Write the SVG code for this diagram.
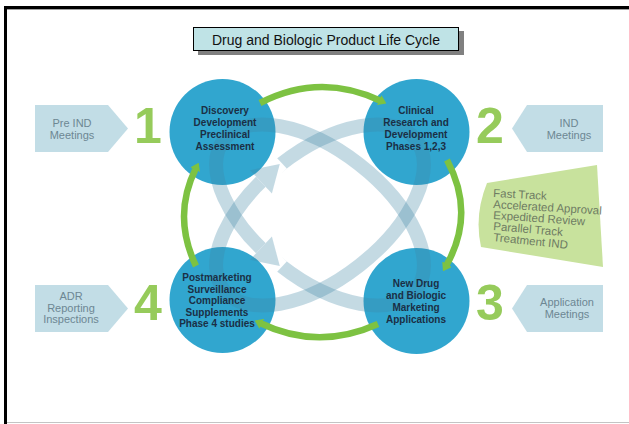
<svg xmlns="http://www.w3.org/2000/svg" width="629" height="424" viewBox="0 0 629 424">
  <style>
    .frame { fill: #000; }
    .title-box { fill: #bfe3e6; stroke: #000; stroke-width: 1; }
    .title-shadow { fill: #808080; }
    .title-text { font-family: "Liberation Sans", Arial, sans-serif; font-size: 14px; fill: #111; text-anchor: middle; }
    .tab { fill: #c2dde6; }
    .tab-text { font-family: "Liberation Sans", Arial, sans-serif; font-size: 11px; fill: #6d8793; text-anchor: middle; }
    .num { font-family: "Liberation Sans", Arial, sans-serif; font-size: 50px; font-weight: bold; fill: #96cb5b; text-anchor: middle; }
    .stage { fill: #31a6cf; }
    .stage-text { font-family: "Liberation Sans", Arial, sans-serif; font-size: 10px; font-weight: bold; fill: #1b2f45; text-anchor: middle; }
    .band { fill: none; stroke: #3f86a6; stroke-width: 14; }
    .band-head { fill: #3f86a6; }
    .flow { fill: none; stroke: #7dc242; stroke-width: 6.5; marker-end: url(#greenHead); }
    .panel { fill: #c8e29d; }
    .panel-text { font-family: "Liberation Sans", Arial, sans-serif; font-size: 11.5px; fill: #6e7b63; }
  </style>
  <defs>
    <marker id="greenHead" viewBox="0 0 8 11" refX="2" refY="5.5" markerWidth="8" markerHeight="11" markerUnits="userSpaceOnUse" orient="auto">
      <path d="M0,0 L8,5.5 L0,11 Z" fill="#7dc242"/>
    </marker>
    <!-- cut the band where each arrowhead sits, leaving a short gap after the tip -->
    <mask id="gapUpper" maskUnits="userSpaceOnUse" x="0" y="0" width="629" height="424">
      <rect x="0" y="0" width="629" height="424" fill="#fff"/>
      <polygon points="266.4,187.6 255.4,176.0 275.8,156.8 286.8,168.4" fill="#000"/>
    </mask>
    <mask id="gapLower" maskUnits="userSpaceOnUse" x="0" y="0" width="629" height="424">
      <rect x="0" y="0" width="629" height="424" fill="#fff"/>
      <polygon points="266.4,242.4 255.4,254.0 275.8,273.2 286.8,261.6" fill="#000"/>
    </mask>
  </defs>

  <!-- page frame -->
  <rect class="frame" x="4" y="6" width="625" height="3"/>
  <rect class="frame" x="4" y="6" width="3" height="418"/>
  <line x1="7" y1="9.5" x2="629" y2="9.5" stroke="#a0a0a0" stroke-width="1"/>
  <line x1="7" y1="422.5" x2="629" y2="422.5" stroke="#c4c4c4" stroke-width="1"/>

  <!-- title -->
  <g id="title">
    <rect class="title-shadow" x="198" y="31" width="266" height="24"/>
    <rect class="title-box" x="193.5" y="27.5" width="265" height="23"/>
    <text class="title-text" x="326" y="45">Drug and Biologic Product Life Cycle</text>
  </g>

  <!-- side tabs -->
  <g id="tab-pre-ind">
    <polygon class="tab" points="35,105 108,105 128,128.5 108,152 35,152"/>
    <text class="tab-text" x="72" y="127">Pre IND</text>
    <text class="tab-text" x="72" y="139">Meetings</text>
  </g>
  <g id="tab-ind">
    <polygon class="tab" points="603,105 527,105 512,128.5 527,152 603,152"/>
    <text class="tab-text" x="569" y="127">IND</text>
    <text class="tab-text" x="569" y="139">Meetings</text>
  </g>
  <g id="tab-adr">
    <polygon class="tab" points="35,285 108,285 128,308.5 108,332 35,332"/>
    <text class="tab-text" x="71" y="300">ADR</text>
    <text class="tab-text" x="71" y="311.5">Reporting</text>
    <text class="tab-text" x="71" y="323">Inspections</text>
  </g>
  <g id="tab-application">
    <polygon class="tab" points="603,285 527,285 512,308.5 527,332 603,332"/>
    <text class="tab-text" x="567" y="306">Application</text>
    <text class="tab-text" x="567" y="318">Meetings</text>
  </g>

  <!-- stage numbers -->
  <g id="numbers">
    <text class="num" x="148" y="143">1</text>
    <text class="num" x="490" y="143">2</text>
    <text class="num" x="490" y="320">3</text>
    <text class="num" x="148" y="320">4</text>
  </g>

  <!-- expedited programs panel -->
  <g id="expedited-panel">
    <path class="panel" d="M487,183 L597,165 L603,267 L481,247 Q474,215 487,183 Z"/>
    <text class="panel-text" x="493" y="197" transform="rotate(3 493 197)">Fast Track</text>
    <text class="panel-text" x="493" y="208" transform="rotate(3.5 493 208)">Accelerated Approval</text>
    <text class="panel-text" x="493" y="219" transform="rotate(4 493 219)">Expedited Review</text>
    <text class="panel-text" x="493" y="230" transform="rotate(5 493 230)">Parallel Track</text>
    <text class="panel-text" x="493" y="241" transform="rotate(6 493 241)">Treatment IND</text>
  </g>

  <!-- stage circles -->
  <g id="stage-1"><circle class="stage" cx="222.5" cy="132" r="53"/></g>
  <g id="stage-2"><circle class="stage" cx="416.5" cy="132" r="53"/></g>
  <g id="stage-3"><circle class="stage" cx="416.5" cy="301" r="53"/></g>
  <g id="stage-4"><circle class="stage" cx="222.5" cy="300" r="53"/></g>

  <g id="connectors">
    <!-- translucent cycle bands -->
    <g opacity="0.3">
      <g mask="url(#gapUpper)">
        <ellipse class="band" cx="320" cy="215" rx="122" ry="64" transform="rotate(-38 320 215)"/>
      </g>
      <polygon class="band-head" points="249.9,170.2 271.9,193.4 279.8,164.0"/>
    </g>
    <g opacity="0.3">
      <g mask="url(#gapLower)">
        <ellipse class="band" cx="320" cy="215" rx="122" ry="64" transform="rotate(38 320 215)"/>
      </g>
      <polygon class="band-head" points="249.9,259.8 271.9,236.6 279.8,266.0"/>
    </g>
    <!-- green cycle arrows -->
    <path class="flow" d="M260,103 Q320,72 381,101"/>
    <path class="flow" d="M447,160 Q476,214 446,266"/>
    <path class="flow" d="M378,324 Q318,351 260,323"/>
    <path class="flow" d="M196,266 Q172,216 196,168"/>
  </g>

  <!-- stage labels -->
  <g id="stage-1-label">
    <text class="stage-text" x="225" y="114">Discovery</text>
    <text class="stage-text" x="225" y="126">Development</text>
    <text class="stage-text" x="225" y="138">Preclinical</text>
    <text class="stage-text" x="225" y="150">Assessment</text>
  </g>
  <g id="stage-2-label">
    <text class="stage-text" x="416" y="114">Clinical</text>
    <text class="stage-text" x="416" y="126">Research and</text>
    <text class="stage-text" x="416" y="138">Development</text>
    <text class="stage-text" x="416" y="150">Phases 1,2,3</text>
  </g>
  <g id="stage-3-label">
    <text class="stage-text" x="416" y="287">New Drug</text>
    <text class="stage-text" x="416" y="299">and Biologic</text>
    <text class="stage-text" x="416" y="311">Marketing</text>
    <text class="stage-text" x="416" y="323">Applications</text>
  </g>
  <g id="stage-4-label">
    <text class="stage-text" x="217" y="281">Postmarketing</text>
    <text class="stage-text" x="217" y="292.5">Surveillance</text>
    <text class="stage-text" x="217" y="304">Compliance</text>
    <text class="stage-text" x="217" y="315.5">Supplements</text>
    <text class="stage-text" x="217" y="327">Phase 4 studies</text>
  </g>
</svg>
